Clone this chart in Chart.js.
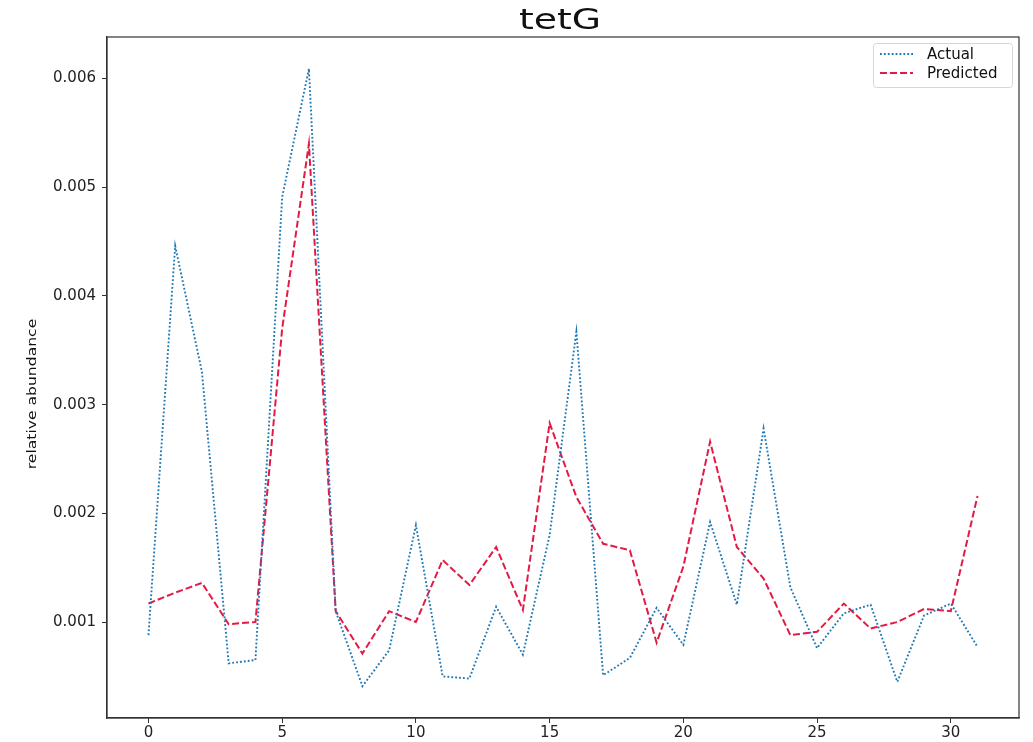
<!DOCTYPE html>
<html>
<head>
<meta charset="utf-8">
<script src="https://cdn.jsdelivr.net/npm/chart.js@4/dist/chart.umd.min.js"></script>
<style>
  html, body { margin: 0; padding: 0; background: #fff; }
  #wrap { width: 1033px; height: 742px; }
</style>
</head>
<body>
<div id="wrap"><canvas id="c" width="1033" height="742"></canvas></div>
<script>
// Sample index along the x axis
const samples = [0, 1, 2, 3, 4, 5, 6, 7, 8, 9, 10, 11, 12, 13, 14, 15,
                 16, 17, 18, 19, 20, 21, 22, 23, 24, 25, 26, 27, 28, 29, 30, 31];

// Observed relative abundance of tetG
const actual = [0.00088, 0.00446, 0.00330, 0.00062, 0.00065, 0.00491, 0.00609, 0.00110,
                0.00041, 0.00074, 0.00189, 0.00050, 0.00048, 0.00114, 0.00070, 0.00180,
                0.00367, 0.00051, 0.00067, 0.00113, 0.00079, 0.00192, 0.00116, 0.00278,
                0.00132, 0.00076, 0.00108, 0.00116, 0.00045, 0.00106, 0.00117, 0.00077];

// Model prediction
const predicted = [0.00117, 0.00127, 0.00136, 0.00098, 0.00100, 0.00370, 0.00540, 0.00110,
                   0.00071, 0.00110, 0.00100, 0.00157, 0.00134, 0.00169, 0.00111, 0.00283,
                   0.00215, 0.00172, 0.00166, 0.00081, 0.00151, 0.00266, 0.00169, 0.00140,
                   0.00088, 0.00091, 0.00117, 0.00094, 0.00100, 0.00112, 0.00110, 0.00216];

const xTicks = [0, 5, 10, 15, 20, 25, 30];
const yTicks = [0.001, 0.002, 0.003, 0.004, 0.005, 0.006];

const seriesNames = ['Actual', 'Predicted'];
const titleText = 'tetG';
const yLabel = 'relative abundance';

const BLUE = '#1f77b4';
const RED = '#e31a45';
const AXIS = '#333333';
const DOT = [1.8, 2.1];
const DASH = [7, 3];

const toPoints = vals => samples.map((s, i) => ({ x: s, y: vals[i] }));

// Frame, title, y-label and legend drawn on top of the plot
const decorations = {
  id: 'decorations',
  afterDraw(chart) {
    const { ctx, chartArea: a } = chart;
    ctx.save();

    // closing spines (top / right)
    ctx.strokeStyle = AXIS;
    ctx.lineWidth = 1.2;
    ctx.strokeRect(a.left, a.top, a.right - a.left, a.bottom - a.top);

    // title
    ctx.fillStyle = '#111';
    ctx.font = '28px "DejaVu Sans"';
    ctx.textAlign = 'center';
    ctx.textBaseline = 'alphabetic';
    ctx.save();
    ctx.translate((a.left + a.right) / 2 - 3, 29);
    ctx.scale(1.35, 1);
    ctx.fillText(titleText, 0, 0);
    ctx.restore();

    // y axis label
    ctx.save();
    ctx.translate(36, 394);
    ctx.rotate(-Math.PI / 2);
    ctx.scale(1.2, 1);
    ctx.font = '13px "DejaVu Sans"';
    ctx.fillStyle = '#111';
    ctx.textAlign = 'center';
    ctx.textBaseline = 'alphabetic';
    ctx.fillText(yLabel, 0, 0);
    ctx.restore();

    // legend
    const bx = 873, by = 43, bw = 139, bh = 44;
    ctx.fillStyle = 'rgba(255,255,255,0.85)';
    ctx.strokeStyle = '#d6d6d6';
    ctx.lineWidth = 1;
    ctx.beginPath();
    ctx.roundRect(bx + 0.5, by + 0.5, bw, bh, 3);
    ctx.fill();
    ctx.stroke();

    const rows = [
      { name: seriesNames[0], color: BLUE, dash: DOT, width: 1.9, y: 54 },
      { name: seriesNames[1], color: RED, dash: DASH, width: 2, y: 73 }
    ];
    ctx.font = '15px "DejaVu Sans"';
    ctx.textAlign = 'left';
    ctx.textBaseline = 'middle';
    rows.forEach(r => {
      ctx.strokeStyle = r.color;
      ctx.lineWidth = r.width;
      ctx.setLineDash(r.dash);
      ctx.beginPath();
      ctx.moveTo(880, r.y);
      ctx.lineTo(913, r.y);
      ctx.stroke();
      ctx.setLineDash([]);
      ctx.fillStyle = '#111';
      ctx.fillText(r.name, 927, r.y + 1);
    });
    ctx.restore();
  }
};

new Chart(document.getElementById('c'), {
  type: 'line',
  data: {
    datasets: [
      {
        label: seriesNames[0],
        data: toPoints(actual),
        borderColor: BLUE,
        borderWidth: 1.9,
        borderDash: DOT,
        pointRadius: 0,
        tension: 0,
        fill: false
      },
      {
        label: seriesNames[1],
        data: toPoints(predicted),
        borderColor: RED,
        borderWidth: 2,
        borderDash: DASH,
        pointRadius: 0,
        tension: 0,
        fill: false
      }
    ]
  },
  options: {
    responsive: false,
    animation: false,
    events: [],
    layout: { padding: { top: 37, right: 14, left: 0, bottom: 0 } },
    plugins: {
      legend: { display: false },
      title: { display: false },
      tooltip: { enabled: false }
    },
    scales: {
      x: {
        type: 'linear',
        min: -1.55,
        max: 32.55,
        afterBuildTicks: s => { s.ticks = xTicks.map(v => ({ value: v })); },
        afterFit: s => { s.height = 24; },
        grid: { display: true, drawOnChartArea: false, drawTicks: true, tickLength: 5, tickColor: AXIS, tickWidth: 1 },
        border: { display: true, color: AXIS, width: 1.2 },
        ticks: {
          color: '#222',
          font: { family: 'DejaVu Sans', size: 15 },
          padding: 1,
          maxRotation: 0,
          autoSkip: false,
          callback: v => String(v)
        }
      },
      y: {
        type: 'linear',
        min: 0.000117,
        max: 0.006382,
        afterBuildTicks: s => { s.ticks = yTicks.map(v => ({ value: v })); },
        afterFit: s => { s.width = 107; },
        grid: { display: true, drawOnChartArea: false, drawTicks: true, tickLength: 5, tickColor: AXIS, tickWidth: 1 },
        border: { display: true, color: AXIS, width: 1.2 },
        ticks: {
          color: '#222',
          font: { family: 'DejaVu Sans', size: 15 },
          padding: 6,
          autoSkip: false,
          callback: v => Number(v).toFixed(3)
        }
      }
    }
  },
  plugins: [decorations]
});
</script>
</body>
</html>
